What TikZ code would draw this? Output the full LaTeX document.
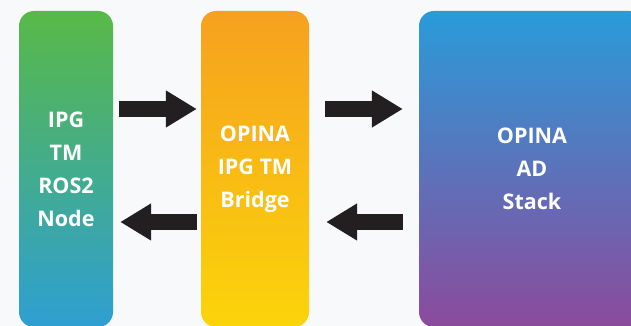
\documentclass[tikz,border=0pt]{standalone}
\usepackage{fontspec}
\setmainfont{Open Sans}
\usetikzlibrary{arrows.meta,calc}
\definecolor{bg}{HTML}{F8F9FB}
\definecolor{gtop}{HTML}{58B947}
\definecolor{gbot}{HTML}{2E9FD2}
\definecolor{otop}{HTML}{F6A11F}
\definecolor{obot}{HTML}{FBD40A}
\definecolor{btop}{HTML}{2A9BD9}
\definecolor{bbot}{HTML}{8C4A9C}
\definecolor{arr}{HTML}{231F20}
\tikzset{
  block/.style={rounded corners=15pt, minimum height=316pt, inner sep=0pt,
    text=white, font=\fontsize{21.5}{33}\selectfont\bfseries, align=center},
  fat/.style={draw=arr, line width=16pt, -{Triangle[width=35pt,length=31pt]}}
}
\begin{document}
\begin{tikzpicture}[x=1pt,y=1pt]
\useasboundingbox (0,0) rectangle (631,326);
\fill[bg] (0,0) rectangle (631,326);
\node[block, minimum width=94pt, top color=gtop, bottom color=gbot] (ros) at (66,157) {IPG\\TM\\ROS2\\Node};
\node[block, minimum width=108pt, top color=otop, bottom color=obot] (bridge) at (255,157) {OPINA\\IPG TM\\Bridge};
\node[block, minimum width=226pt, top color=btop, bottom color=bbot] (ad) at (532,157) {OPINA\\AD\\Stack};
\draw[fat] ([xshift=6pt,yshift=60pt]ros.east) -- ([xshift=-4pt,yshift=60pt]bridge.west);
\draw[fat] ([xshift=-4pt,yshift=-53pt]bridge.west) -- ([xshift=7pt,yshift=-53pt]ros.east);
\draw[fat] ([xshift=16pt,yshift=60pt]bridge.east) -- ([xshift=-16pt,yshift=60pt]ad.west);
\draw[fat] ([xshift=-16pt,yshift=-53pt]ad.west) -- ([xshift=17pt,yshift=-53pt]bridge.east);
\end{tikzpicture}
\end{document}
